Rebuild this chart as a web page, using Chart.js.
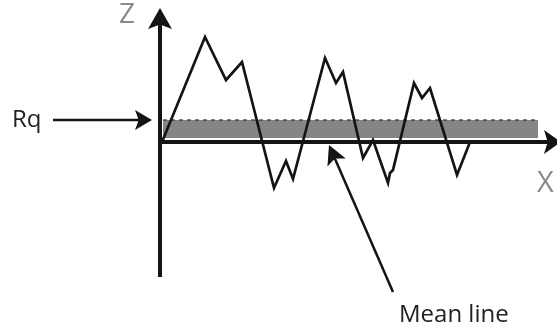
<!DOCTYPE html>
<html>
<head>
<meta charset="utf-8">
<script src="https://cdn.jsdelivr.net/npm/chart.js@4/dist/chart.umd.min.js"></script>
<style>
  html, body { margin: 0; padding: 0; background: #fff; }
  canvas { display: block; }
</style>
</head>
<body>
<canvas id="perfil" width="557" height="331"></canvas>
<script>
// perfil de rugosidad: distancia sobre el eje X y altura Z respecto a la linea media
const perfilX = [2, 45, 66, 82, 114, 126, 133, 165, 176, 183, 203, 213, 228, 230, 233, 254, 262, 270, 297, 310];
const perfilZ = [0, 105, 62, 80, -46, -19, -37, 84, 59, 70, -16, 2, -41, -31, -28, 59, 44, 54, -33, 0];

// banda Rq (nivel cuadratico medio)
const bandaX = [3, 378];
const bandaRq = [22, 22];
const bandaBase = 4;

// textos
const etiquetaEjeZ = 'Z';
const etiquetaEjeX = 'X';
const etiquetaRq = 'Rq';
const etiquetaMedia = 'Mean line';

const tinta = '#141414';
const gris = '#8a8a8a';

function flecha(ctx, x1, y1, x2, y2, largo, ancho, grosor, color) {
  const ang = Math.atan2(y2 - y1, x2 - x1);
  const cos = Math.cos(ang), sin = Math.sin(ang);
  ctx.save();
  ctx.strokeStyle = color;
  ctx.fillStyle = color;
  ctx.lineWidth = grosor;
  ctx.beginPath();
  ctx.moveTo(x1, y1);
  ctx.lineTo(x2 - cos * largo * 0.7, y2 - sin * largo * 0.7);
  ctx.stroke();
  const bx = x2 - cos * largo, by = y2 - sin * largo;
  const nx = x2 - cos * largo * 0.78, ny = y2 - sin * largo * 0.78;
  ctx.beginPath();
  ctx.moveTo(x2, y2);
  ctx.lineTo(bx - sin * ancho / 2, by + cos * ancho / 2);
  ctx.lineTo(nx, ny);
  ctx.lineTo(bx + sin * ancho / 2, by - cos * ancho / 2);
  ctx.closePath();
  ctx.fill();
  ctx.restore();
}

const diagrama = {
  id: 'diagrama',
  afterDatasetsDraw(chart) {
    const { ctx, scales } = chart;
    const px = v => scales.x.getPixelForValue(v);
    const py = v => scales.y.getPixelForValue(v);

    // ejes
    flecha(ctx, px(0), py(-135), px(0), py(134), 21, 24, 4, tinta);
    flecha(ctx, px(0), py(0), px(401), py(0), 17, 24, 4, tinta);

    // flechas de anotacion
    flecha(ctx, px(-107), py(22), px(-8), py(22), 17, 20, 2.5, tinta);
    flecha(ctx, px(233), py(-150), px(169), py(-3), 19, 20, 2.5, tinta);

    ctx.save();
    ctx.textBaseline = 'alphabetic';
    ctx.textAlign = 'left';
    ctx.fillStyle = gris;
    ctx.font = '28px "Open Sans"';
    ctx.fillText(etiquetaEjeZ, px(-41), py(119));
    ctx.font = '29px "Open Sans"';
    ctx.fillText(etiquetaEjeX, px(377), py(-50));
    ctx.fillStyle = '#222';
    ctx.font = '24px "Open Sans"';
    ctx.fillText(etiquetaRq, px(-148), py(15));
    ctx.fillText(etiquetaMedia, px(239), py(-180));
    ctx.restore();
  }
};

new Chart(document.getElementById('perfil'), {
  type: 'line',
  data: {
    datasets: [
      {
        label: 'Rq',
        order: 2,
        data: bandaX.map((x, i) => ({ x, y: bandaRq[i] })),
        borderColor: '#333',
        borderWidth: 1.2,
        borderDash: [4, 4],
        backgroundColor: '#858585',
        fill: { value: bandaBase },
        pointRadius: 0
      },
      {
        label: 'Perfil',
        order: 1,
        data: perfilX.map((x, i) => ({ x, y: perfilZ[i] })),
        borderColor: tinta,
        borderWidth: 2.7,
        borderJoinStyle: 'miter',
        fill: false,
        tension: 0,
        pointRadius: 0
      }
    ]
  },
  options: {
    responsive: false,
    animation: false,
    devicePixelRatio: 1,
    layout: { padding: 0 },
    plugins: { legend: { display: false }, tooltip: { enabled: false } },
    scales: {
      x: { type: 'linear', min: -160, max: 397, display: false },
      y: { type: 'linear', min: -189, max: 142, display: false }
    }
  },
  plugins: [diagrama]
});
</script>
</body>
</html>
